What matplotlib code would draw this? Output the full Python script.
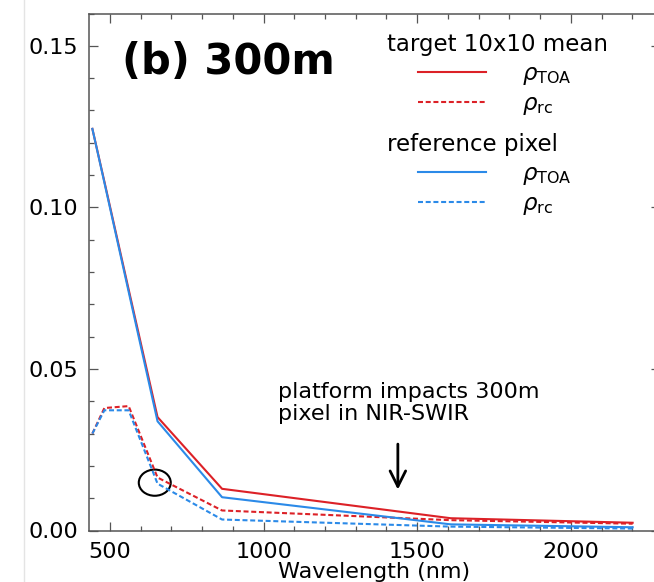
import numpy as np
import matplotlib
matplotlib.use("Agg")
import matplotlib.pyplot as plt
from matplotlib.lines import Line2D
from matplotlib.patches import Ellipse
from matplotlib.legend_handler import HandlerLine2D
from matplotlib.ticker import MultipleLocator, FormatStrFormatter

# band centres (nm) and reflectances
wavelength = [443, 482, 561, 655, 865, 1609, 2201]
target_toa = [0.1243, 0.108, 0.0746, 0.0351, 0.0129, 0.0038, 0.0024]
target_rc = [0.0300, 0.0379, 0.0385, 0.0164, 0.0062, 0.0032, 0.0021]
pixel_toa = [0.1243, 0.1077, 0.0739, 0.0338, 0.0103, 0.0019, 0.0010]
pixel_rc = [0.0300, 0.0372, 0.0372, 0.0145, 0.0034, 0.0012, 0.0006]

red = '#dc2127'
blue = '#2b8ae8'
dash = (0, (2.4, 1.3))


class IndentLine(HandlerLine2D):
    """legend key drawn only over the right part of the handle box"""
    def __init__(self, frac, **kw):
        super().__init__(**kw)
        self.frac = frac

    def create_artists(self, legend, orig_handle, xdescent, ydescent,
                       width, height, fontsize, trans):
        shift = width * self.frac
        return super().create_artists(legend, orig_handle, xdescent - shift,
                                      ydescent, width - shift, height,
                                      fontsize, trans)


fig = plt.figure(figsize=(6.54, 5.82), dpi=100)
ax = fig.add_axes([89/654, 1 - 530.5/582, (660 - 89)/654, (530.5 - 13.5)/582])

l1, = ax.plot(wavelength, target_toa, color=red, lw=1.5)
l2, = ax.plot(wavelength, target_rc, color=red, lw=1.5, ls=dash)
l3, = ax.plot(wavelength, pixel_toa, color=blue, lw=1.5)
l4, = ax.plot(wavelength, pixel_rc, color=blue, lw=1.5, ls=dash)

ax.set_xlim(432, 2290)
ax.set_ylim(0, 0.16)
ax.set_xticks([500, 1000, 1500, 2000])
ax.xaxis.set_minor_locator(MultipleLocator(100))
ax.set_yticks([0.0, 0.05, 0.10, 0.15])
ax.yaxis.set_minor_locator(MultipleLocator(0.01))
ax.yaxis.set_major_formatter(FormatStrFormatter('%.2f'))
ax.tick_params(which='both', direction='in', top=True, right=True,
               color='#555555', width=0.9, labelsize=16, pad=8)
ax.tick_params(which='major', length=6.5)
ax.tick_params(which='minor', length=3.5)
for s in ax.spines.values():
    s.set_color('#555555')
    s.set_linewidth(1.1)
ax.set_xlabel('Wavelength (nm)', fontsize=16, labelpad=0)

ax.text(0.058, 0.907, '(b) 300m', transform=ax.transAxes, fontsize=30,
        fontweight='bold', va='center', ha='left')

# highlighted 655 nm band
ax.add_patch(Ellipse((646, 0.0148), 104, 0.0081, fill=False, color='black', lw=1.5))

ax.annotate('', xy=(1437, 0.0118), xytext=(1437, 0.0276),
            arrowprops=dict(arrowstyle='->', lw=2, color='black', mutation_scale=28))
ax.text(1047, 0.0395, 'platform impacts 300m\npixel in NIR-SWIR', fontsize=16,
        va='center', ha='left', linespacing=1.1)

labels = [r'$\rho_{\rm TOA}$', r'$\rho_{\rm rc}$']
leg_kw = dict(loc='upper left', frameon=False, alignment='left', fontsize=16.5,
              title_fontsize=16.5, handlelength=4.3, handletextpad=1.6,
              borderpad=0, borderaxespad=0, labelspacing=0.25,
              bbox_transform=fig.transFigure,
              handler_map={Line2D: IndentLine(0.31)})
leg1 = ax.legend([l1, l2], labels, title='target 10x10 mean',
                 bbox_to_anchor=(387/654, 1 - 33/582), **leg_kw)
ax.add_artist(leg1)
ax.legend([l3, l4], labels, title='reference pixel',
          bbox_to_anchor=(387/654, 1 - 133/582), **leg_kw)

fig.add_artist(Line2D([24/654, 24/654], [0, 1], color='#e4e4e4', lw=1))

fig.savefig('out.png', dpi=100)
